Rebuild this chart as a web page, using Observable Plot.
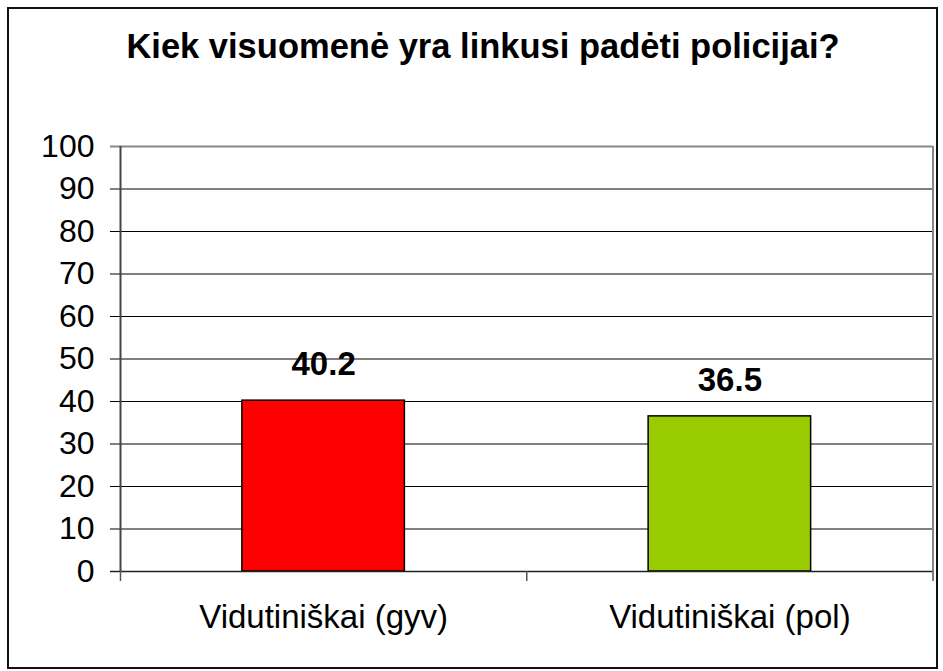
<!DOCTYPE html>
<html>
<head>
<meta charset="utf-8">
<script src="https://cdn.jsdelivr.net/npm/d3@7"></script>
<script src="https://cdn.jsdelivr.net/npm/@observablehq/plot@0.6"></script>
<style>
  html, body { margin: 0; padding: 0; background: #fff; }
  #wrap { position: relative; width: 943px; height: 671px; overflow: hidden; font-family: "Liberation Sans", Arial, sans-serif; }
  #border { position: absolute; left: 7px; top: 7px; width: 927px; height: 658px; border: 2px solid #111; box-sizing: content-box; }
  #title { position: absolute; top: 30px; left: 483px; transform: translateX(-50%); white-space: nowrap; font-size: 34.5px; line-height: 33px; font-weight: bold; color: #000; }
  #chart { position: absolute; left: 0; top: 0; }
</style>
</head>
<body>
<div id="wrap">
  <div id="border"></div>
  <div id="chart"></div>
  <div id="title"></div>
</div>
<script>
const title = "Kiek visuomenė yra linkusi padėti policijai?";
const categories = ["Vidutiniškai (gyv)", "Vidutiniškai (pol)"];
const values = [40.2, 36.5];
const colors = ["#FF0000", "#99CC00"];
const yTicks = [0, 10, 20, 30, 40, 50, 60, 70, 80, 90, 100];

const data = categories.map((c, i) => ({ c, v: values[i], i, color: colors[i] }));
const n = categories.length;
const pad = 0.3;

document.getElementById("title").textContent = title;

const chart = Plot.plot({
  width: 943,
  height: 671,
  marginLeft: 120,
  marginRight: 10.5,
  marginTop: 146,
  marginBottom: 100,
  style: { background: "transparent", fontFamily: "'Liberation Sans', Arial, sans-serif", color: "#000", overflow: "visible" },
  x: { domain: [0, n], axis: null, label: null },
  y: { domain: [0, 100], axis: null, label: null },
  color: { type: "identity" },
  marks: [
    Plot.ruleY(yTicks.filter(d => d > 0 && d < 100), { stroke: "#000", strokeWidth: 1, insetLeft: -10 }),
    Plot.ruleY([100], { stroke: "#888", strokeWidth: 2, insetLeft: -10 }),
    Plot.ruleX([n], { stroke: "#888", strokeWidth: 2 }),
    Plot.rectY(data, { x1: d => d.i + pad, x2: d => d.i + 1 - pad, y: "v", fill: "color", stroke: "#000", strokeWidth: 1.5 }),
    Plot.ruleY([0], { stroke: "#222", strokeWidth: 1.5, insetLeft: -10 }),
    Plot.ruleX([0], { stroke: "#444", strokeWidth: 2 }),
    Plot.axisX({ ticks: d3.range(n + 1), tickSize: 10, tickFormat: () => "", stroke: "#555", strokeWidth: 1.5, label: null }),
    Plot.axisY({ ticks: yTicks, tickSize: 0, tickPadding: 26, fontSize: 32, tickFormat: d => String(d), label: null }),
    Plot.text(data, { x: d => d.i + 0.5, frameAnchor: "bottom", text: "c", fontSize: 33, lineAnchor: "top", dy: 33 }),
    Plot.text(data, { x: d => d.i + 0.5, y: "v", text: d => d.v.toFixed(1), fontSize: 33, fontWeight: "bold", lineAnchor: "middle", dy: -36 })
  ]
});
document.getElementById("chart").appendChild(chart);
</script>
</body>
</html>
